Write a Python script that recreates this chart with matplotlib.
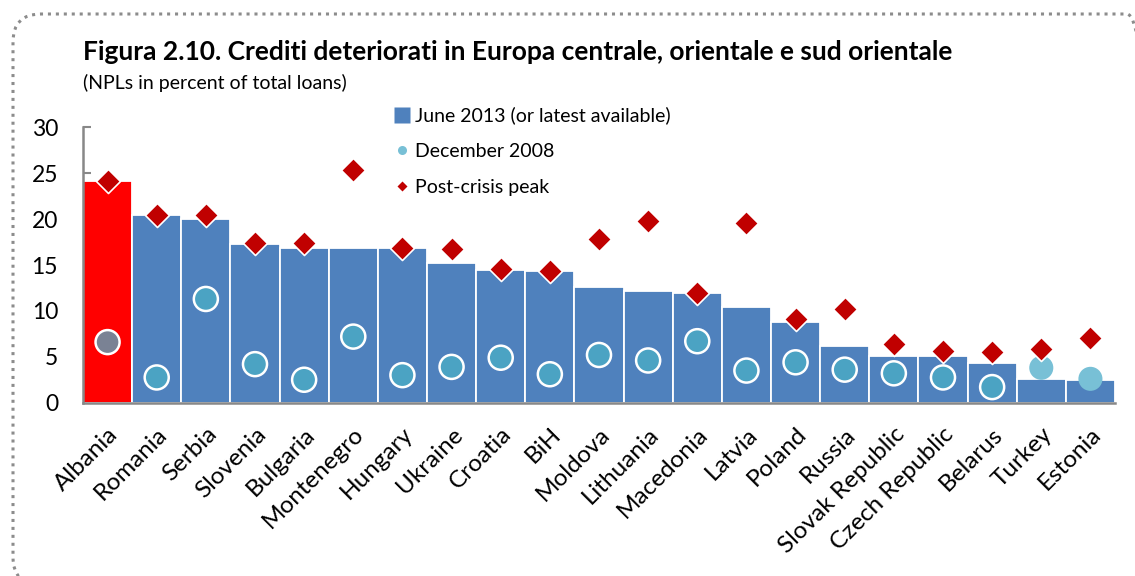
import matplotlib
matplotlib.use("Agg")
import matplotlib.pyplot as plt
from matplotlib.lines import Line2D
from matplotlib.patches import FancyBboxPatch
from matplotlib.transforms import IdentityTransform
import numpy as np

countries = ["Albania", "Romania", "Serbia", "Slovenia", "Bulgaria", "Montenegro",
             "Hungary", "Ukraine", "Croatia", "BiH", "Moldova", "Lithuania",
             "Macedonia", "Latvia", "Poland", "Russia", "Slovak Republic",
             "Czech Republic", "Belarus", "Turkey", "Estonia"]
june2013 = [24.2, 20.4, 20.0, 17.3, 16.9, 16.9, 16.8, 15.2, 14.5, 14.3, 12.6, 12.2,
            11.9, 10.4, 8.8, 6.2, 5.1, 5.1, 4.3, 2.6, 2.5]
dec2008 = [6.6, 2.75, 11.3, 4.2, 2.5, 7.2, 3.0, 3.9, 4.9, 3.1, 5.2, 4.6,
           6.7, 3.5, 4.4, 3.6, 3.2, 2.75, 1.7, 3.8, 2.6]
peak = [24.2, 20.4, 20.4, 17.4, 17.4, 25.4, 16.9, 16.7, 14.6, 14.4, 17.8, 19.8,
        12.0, 19.6, 9.1, 10.2, 6.4, 5.6, 5.5, 5.8, 7.0]
yticks = [0, 5, 10, 15, 20, 25, 30]

W, H = 1135, 576
fig = plt.figure(figsize=(W / 100, H / 100), dpi=100)
plt.rcParams['font.family'] = ['Lato', 'DejaVu Sans']

def fx(px):
    return px / W

def fy(py):
    return 1 - py / H

ax = fig.add_axes([fx(83), fy(402.7), fx(1115) - fx(83), fy(127.3) - fy(402.7)])

x = np.arange(len(countries))
bar_colors = ["#FF0000"] + ["#4F81BD"] * (len(countries) - 1)
ax.bar(x, june2013, width=1.0, color=bar_colors, edgecolor="white", linewidth=1.3, zorder=2)

circ_colors = ["#7A8294"] + ["#4BA3C3"] * (len(countries) - 3) + ["#78C0D6", "#78C0D6"]
edge_colors = ["white"] * (len(countries) - 2) + ["none", "none"]
ax.scatter(x, dec2008, s=300, c=circ_colors, edgecolors=edge_colors, linewidths=1.8, zorder=3)
ax.scatter(x, peak, s=150, marker="D", c="#C00000", edgecolors="white", linewidths=1.2, zorder=4)

ax.set_xlim(-0.5, len(countries) - 0.5)
ax.set_ylim(0, 30)
ax.set_yticks(yticks)
ax.set_yticklabels([str(v) for v in yticks], fontsize=16.5)
ax.tick_params(axis="y", direction="in", length=6, width=1.5, color="#888888", pad=18)
ax.set_xticks(x)
ax.set_xticklabels(countries, rotation=45, ha="right", rotation_mode="anchor", fontsize=17.5)
ax.tick_params(axis="x", length=0, pad=15)
for s in ["top", "right"]:
    ax.spines[s].set_visible(False)
ax.spines["left"].set_color("#888888")
ax.spines["left"].set_linewidth(1.8)
ax.spines["bottom"].set_color("#888888")
ax.spines["bottom"].set_linewidth(1.8)
ax.spines["left"].set_zorder(5)

handles = [
    Line2D([], [], marker="s", linestyle="none", markersize=11, markerfacecolor="#4F81BD", markeredgecolor="none"),
    Line2D([], [], marker="o", linestyle="none", markersize=6.5, markerfacecolor="#78C0D6", markeredgecolor="none"),
    Line2D([], [], marker="D", linestyle="none", markersize=5.5, markerfacecolor="#C00000", markeredgecolor="none"),
]
labels = ["June 2013 (or latest available)", "December 2008", "Post-crisis peak"]
leg = fig.legend(handles, labels, loc="upper left", bbox_to_anchor=(fx(385), fy(97)),
                 frameon=False, fontsize=14, handlelength=0.7, handletextpad=0.35,
                 labelspacing=0.95, borderpad=0)

fig.text(fx(83), fy(52), "Figura 2.10. Crediti deteriorati in Europa centrale, orientale e sud orientale",
         fontsize=19, fontweight="bold", va="center", ha="left")
fig.text(fx(83), fy(83), "(NPLs in percent of total loans)", fontsize=14, va="center", ha="left")

r = 28
left, top, right, bottom = 13, 14, 1155, 585
border = FancyBboxPatch((left, H - bottom), right - left, bottom - top,
                        boxstyle="round,pad=0,rounding_size=%d" % r, transform=IdentityTransform(),
                        fill=False, edgecolor="#8C8C8C", linewidth=2.2,
                        linestyle=(0, (1, 1.6)), clip_on=False)
fig.patches.append(border)

fig.savefig("out.png", dpi=100)
